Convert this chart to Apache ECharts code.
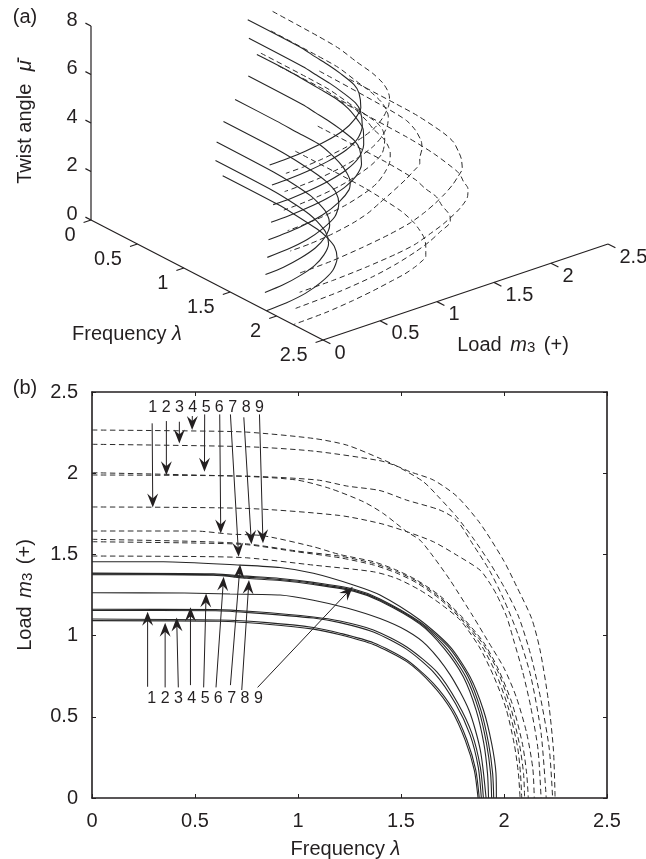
<!DOCTYPE html>
<html><head><meta charset="utf-8">
<style>html,body{margin:0;padding:0;background:#fff}#c{width:646px;height:859px}</style>
<script src="https://cdn.jsdelivr.net/npm/echarts@6/dist/echarts.min.js"></script>
</head><body><div id="c"></div>
<script>
// Twist angle of curves 1..9 (as read on panel a)
const twist = [0, 0.72, 1.47, 2.22, 2.97, 3.75, 4.52, 5.3, 6.08];
// Solid curves [frequency, load]
const solid1 = [[0,1.155],[.6,1.153],[.78,1.14],[1.075,1.108],[1.204,1.08],[1.366,1.022],[1.528,.915],[1.665,.765],[1.765,.58],[1.835,.39],[1.875,.19],[1.89,0]];
const solid2 = [[0,1.092],[.62,1.088],[.85,1.07],[1.075,1.04],[1.204,1.005],[1.366,.945],[1.528,.84],[1.65,.70],[1.745,.54],[1.812,.355],[1.856,.17],[1.874,0]];
const solid3 = [[0,1.102],[.62,1.096],[.85,1.08],[1.075,1.05],[1.204,1.015],[1.366,.956],[1.528,.85],[1.657,.706],[1.754,.542],[1.82,.357],[1.863,.172],[1.88,0]];
const solid4 = [[0,1.162],[.6,1.16],[.78,1.148],[1.075,1.115],[1.204,1.09],[1.366,1.035],[1.528,.93],[1.675,.775],[1.775,.585],[1.845,.395],[1.885,.19],[1.90,0]];
const solid5 = [[0,1.264],[.45,1.262],[.67,1.256],[.913,1.25],[1.075,1.218],[1.237,1.17],[1.398,1.105],[1.528,1.03],[1.625,.94],[1.738,.76],[1.83,.54],[1.885,.295],[1.913,0]];
const solid6 = [[0,1.38],[.59,1.375],[.751,1.36],[.913,1.345],[1.075,1.321],[1.269,1.28],[1.398,1.219],[1.592,1.077],[1.72,.925],[1.815,.745],[1.878,.54],[1.915,.336],[1.935,.15],[1.94,0]];
const solid7 = [[0,1.455],[.347,1.455],[.72,1.434],[.913,1.419],[1.075,1.384],[1.269,1.312],[1.398,1.25],[1.592,1.096],[1.738,.932],[1.835,.747],[1.90,.542],[1.94,.336],[1.961,.152],[1.963,0]];
const solid8 = [[0,1.385],[.59,1.38],[.751,1.366],[.913,1.352],[1.075,1.328],[1.269,1.287],[1.398,1.226],[1.592,1.084],[1.73,.93],[1.825,.75],[1.888,.54],[1.925,.336],[1.945,.15],[1.95,0]];
const solid9 = [[0,1.375],[.59,1.372],[.751,1.353],[.913,1.339],[1.075,1.315],[1.269,1.274],[1.398,1.213],[1.592,1.071],[1.71,.92],[1.803,.745],[1.865,.54],[1.902,.336],[1.92,.15],[1.925,0]];
// Dashed curves [frequency, load]
const dashed1 = [[0,1.792],[.751,1.783],[1.2,1.74],[1.398,1.691],[1.528,1.64],[1.657,1.578],[1.77,1.496],[1.884,1.403],[1.932,1.321],[1.965,1.25],[2.013,1.116],[2.045,.98],[2.09,.78],[2.13,.56],[2.165,.3],[2.18,0]];
const dashed2 = [[0,1.989],[.751,1.982],[1.094,1.958],[1.237,1.921],[1.398,1.893],[1.528,1.834],[1.689,1.773],[1.77,1.711],[1.85,1.56],[1.93,1.40],[2.0,1.22],[2.07,1.0],[2.13,.75],[2.18,.4],[2.205,0]];
const dashed3 = [[0,2.178],[.751,2.163],[1.075,2.136],[1.398,2.077],[1.479,2.044],[1.544,2.009],[1.657,1.958],[1.77,1.859],[1.884,1.691],[1.997,1.465],[2.062,1.301],[2.134,1.106],[2.175,.911],[2.215,.603],[2.24,.295],[2.248,0]];
const dashed4 = [[0,2.266],[.5,2.26],[.751,2.253],[1.075,2.214],[1.237,2.173],[1.398,2.091],[1.479,2.044],[1.609,1.947],[1.689,1.845],[1.77,1.732],[1.85,1.60],[1.93,1.45],[2.0,1.30],[2.07,1.12],[2.13,.88],[2.18,.6],[2.22,.3],[2.236,0]];
const dashed5 = [[0,2.003],[.75,1.98],[.994,1.958],[1.155,1.906],[1.318,1.824],[1.414,1.752],[1.528,1.64],[1.592,1.588],[1.657,1.486],[1.738,1.342],[1.851,1.116],[1.92,.97],[2.0,.80],[2.06,.62],[2.11,.40],[2.14,.18],[2.147,0]];
const dashed6 = [[0,1.644],[.5,1.644],[.67,1.625],[.83,1.615],[1.075,1.547],[1.2,1.50],[1.366,1.455],[1.479,1.403],[1.576,1.342],[1.689,1.245],[1.80,1.11],[1.90,.96],[1.97,.80],[2.04,.58],[2.09,.33],[2.11,.15],[2.118,0]];
const dashed7 = [[0,1.49],[.5,1.487],[.751,1.479],[1.075,1.434],[1.366,1.393],[1.479,1.352],[1.592,1.28],[1.689,1.198],[1.787,1.096],[1.88,.93],[1.95,.75],[2.01,.55],[2.05,.33],[2.07,.15],[2.078,0]];
const dashed8 = [[0,1.578],[.5,1.57],[.75,1.56],[1.0,1.515],[1.2,1.48],[1.366,1.435],[1.479,1.385],[1.576,1.325],[1.689,1.225],[1.80,1.09],[1.89,.94],[1.96,.77],[2.02,.56],[2.065,.32],[2.08,.15],[2.086,0]];
const dashed9 = [[0,1.593],[.5,1.58],[.75,1.565],[1.0,1.52],[1.2,1.49],[1.366,1.445],[1.479,1.395],[1.576,1.335],[1.689,1.235],[1.80,1.10],[1.90,.945],[1.97,.78],[2.03,.57],[2.075,.33],[2.095,.15],[2.10,0]];
const solidCurves = [solid1,solid2,solid3,solid4,solid5,solid6,solid7,solid8,solid9];
const dashedCurves = [dashed1,dashed2,dashed3,dashed4,dashed5,dashed6,dashed7,dashed8,dashed9];
// Annotation arrows [from frequency, from load, to frequency, to load]
const arrowsTop = [[.292,2.307,.295,1.789],[.361,2.321,.361,1.988],[.424,2.317,.424,2.183],[.487,2.352,.486,2.266],[.547,2.362,.546,2.009],[.620,2.362,.625,1.629],[.672,2.362,.712,1.486],[.737,2.344,.774,1.562],[.813,2.362,.830,1.568]];
const arrowsBottom = [[.270,.685,.270,1.147],[.355,.681,.355,1.079],[.419,.681,.411,1.112],[.478,.695,.478,1.174],[.542,.681,.554,1.260],[.602,.681,.639,1.362],[.672,.695,.719,1.438],[.727,.665,.762,1.342],[.804,.681,1.266,1.301]];
const numbersTop = [[.295,2.403,'1'],[.36,2.403,'2'],[.424,2.403,'3'],[.489,2.403,'4'],[.554,2.403,'5'],[.618,2.403,'6'],[.683,2.403,'7'],[.748,2.403,'8'],[.813,2.403,'9']];
const numbersBottom = [[.29,.611,'1'],[.355,.611,'2'],[.42,.611,'3'],[.484,.611,'4'],[.549,.611,'5'],[.613,.611,'6'],[.678,.611,'7'],[.743,.611,'8'],[.808,.611,'9']];
// Axis ticks
const freqTicks = [0,.5,1,1.5,2,2.5];
const loadTicks = [0,.5,1,1.5,2,2.5];
const twistTicks = [0,2,4,6,8];

const INK = '#231f20', FONT = 'Liberation Sans', FS = 20;

// Oblique projection of panel (a) onto a plain 2-D value plane
function proj(f, l, t){ return [91 + 92.8*f + 114*l, 220 + 48*f - 38.4*l - 24.25*t]; }

const lineSeries = (data, dashed, xi, yi) => ({
  type:'line', xAxisIndex:xi, yAxisIndex:yi, data, symbol:'none', smooth:0.25, silent:true, clip:false,
  lineStyle: dashed ? {color:'#2b2b2b',width:1,type:[5.5,3.5]} : {color:'#262626',width:1.1}
});

const series = [];
solidCurves.forEach(c => series.push(lineSeries(c,false,0,0)));
dashedCurves.forEach(c => series.push(lineSeries(c,true,0,0)));
solidCurves.forEach((c,i) => series.push(lineSeries(c.map(p=>proj(p[0],p[1],twist[i])),false,2,2)));
dashedCurves.forEach((c,i) => series.push(lineSeries(c.map(p=>proj(p[0],p[1],twist[i])),true,2,2)));

// Arrows of panel (b)
series.push({
  type:'custom', xAxisIndex:0, yAxisIndex:0, silent:true, clip:false,
  data: arrowsTop.concat(arrowsBottom), encode:{x:[0,2],y:[1,3]},
  renderItem(params, api){
    const a = api.coord([api.value(0),api.value(1)]), b = api.coord([api.value(2),api.value(3)]);
    const dx=b[0]-a[0], dy=b[1]-a[1], n=Math.hypot(dx,dy), ux=dx/n, uy=dy/n, px=-uy, py=ux;
    const L=14, W=5.5, N=9;
    return {type:'group',children:[
      {type:'line',shape:{x1:a[0],y1:a[1],x2:b[0]-ux*6,y2:b[1]-uy*6},style:{stroke:INK,lineWidth:1,fill:null}},
      {type:'polygon',shape:{points:[[b[0],b[1]],[b[0]-ux*L+px*W,b[1]-uy*L+py*W],[b[0]-ux*N,b[1]-uy*N],[b[0]-ux*L-px*W,b[1]-uy*L-py*W]]},style:{fill:INK,stroke:null}}
    ]};
  }
});
const textSeries = (data, xi, yi, pos, fs) => ({
  type:'scatter', xAxisIndex:xi, yAxisIndex:yi, symbolSize:1, silent:true, clip:false,
  itemStyle:{color:'rgba(0,0,0,0)'}, data,
  label:{show:true, position:pos, distance:0, color:INK, opacity:1, textBorderWidth:0, fontFamily:FONT, fontSize:fs, formatter:p=>p.data[2]}
});
series.push(textSeries(numbersTop.concat(numbersBottom),0,0,'inside',16));

// Axes of panel (a), all through the projection
const axisStyle = {color:INK,width:1.2};
const seg = (a,b) => ({type:'line',xAxisIndex:2,yAxisIndex:2,data:[a,b],symbol:'none',silent:true,clip:false,lineStyle:axisStyle});
series.push(seg(proj(0,0,0),proj(0,0,8)));
series.push(seg(proj(0,0,0),proj(2.5,0,0)));
series.push(seg(proj(2.5,0,0),proj(2.5,2.5,0)));
freqTicks.forEach(f=>series.push(seg(proj(f,0,0),proj(f,-0.065,0))));
loadTicks.forEach(l=>series.push(seg(proj(2.5,l,0),proj(2.58,l,0))));
twistTicks.forEach(t=>series.push(seg(proj(0,0,t),proj(-0.06,0,t))));
const off = (p,dx,dy,s) => [p[0]+dx,p[1]+dy,s];
series.push(textSeries(freqTicks.map(f=>off(proj(f,0,0),-15,15,String(f))),2,2,'left',FS));
series.push(textSeries(loadTicks.map(l=>off(proj(2.5,l,0),11,13,String(l))),2,2,'right',FS));
series.push(textSeries(twistTicks.map(t=>off(proj(0,0,t),-13,-6,String(t))),2,2,'left',FS));

const rich = {
  b:{fontFamily:FONT,fontSize:FS,color:INK},
  i:{fontFamily:FONT,fontSize:FS,color:INK,fontStyle:'italic'},
  g:{fontFamily:FONT,fontSize:FS,color:INK,fontStyle:'italic',padding:[0,0,0,7]},
  m:{fontFamily:FONT,fontSize:FS,color:INK,fontStyle:'italic',padding:[0,0,0,3]},
  s:{fontFamily:FONT,fontSize:15,color:INK,verticalAlign:'bottom',lineHeight:16,padding:[8,3,0,0]}
};
const gtext = (x,y,text,rot) => ({type:'text',x,y,rotation:rot||0,silent:true,
  style:{text,fontFamily:FONT,fontSize:FS,fill:INK,align:'center',verticalAlign:'middle',rich}});

const baseAxis = {min:0,max:2.5,interval:.5};
const boxLine = {show:true,onZero:false,lineStyle:{color:INK,width:1.6}};
const boxTick = {show:true,inside:true,length:4,lineStyle:{color:INK,width:1}};
const fmt = v => String(v);
const option = {
  animation:false, backgroundColor:'#fff',
  grid:[{left:92,top:392,width:515,height:406,outerBoundsMode:'none'},{left:0,top:0,width:646,height:859,show:false,outerBoundsMode:'none'}],
  xAxis:[
    {...baseAxis,type:'value',gridIndex:0,position:'bottom',axisLine:boxLine,axisTick:boxTick,splitLine:{show:false},
     axisLabel:{color:INK,fontFamily:FONT,fontSize:FS,margin:13,formatter:fmt,showMinLabel:true,showMaxLabel:true},
     name:'{b|Frequency }{i|λ}',nameLocation:'middle',nameGap:41,nameTextStyle:{rich,padding:[0,8,0,0]}},
    {...baseAxis,type:'value',gridIndex:0,position:'top',axisLine:boxLine,axisTick:boxTick,splitLine:{show:false},axisLabel:{show:false}},
    {type:'value',gridIndex:1,min:0,max:646,show:false}
  ],
  yAxis:[
    {...baseAxis,type:'value',gridIndex:0,position:'left',axisLine:boxLine,axisTick:boxTick,splitLine:{show:false},
     axisLabel:{color:INK,fontFamily:FONT,fontSize:FS,margin:14,formatter:fmt,showMinLabel:true,showMaxLabel:true},
     name:'{b|Load }{m|m}{s|3}{b| (+)}',nameLocation:'middle',nameGap:57,nameTextStyle:{rich}},
    {...baseAxis,type:'value',gridIndex:0,position:'right',axisLine:boxLine,axisTick:boxTick,splitLine:{show:false},axisLabel:{show:false}},
    {type:'value',gridIndex:1,min:0,max:859,inverse:true,show:false}
  ],
  series,
  graphic:[
    gtext(25,17,'(a)'), gtext(25,388,'(b)'),
    gtext(127,334,'{b|Frequency }{i|λ}'),
    gtext(513,345,'{b|Load }{m|m}{s|3}{b| (+)}'),
    gtext(25,122,'{b|Twist angle }{g|μ}',Math.PI/2),
    gtext(18,60,'-',Math.PI/2)
  ]
};
echarts.init(document.getElementById('c'),null,{renderer:'canvas'}).setOption(option);
</script></body></html>
